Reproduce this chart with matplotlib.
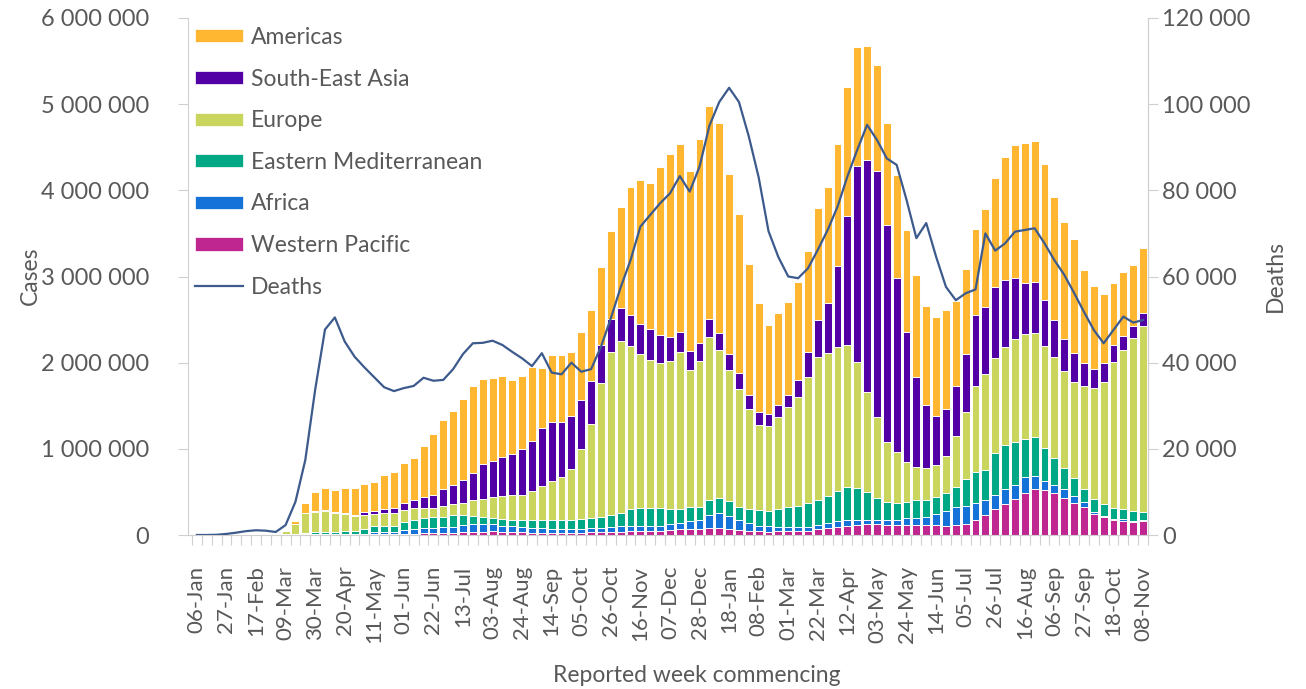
import numpy as np
import matplotlib
matplotlib.use("Agg")
import matplotlib.pyplot as plt
from matplotlib.patches import Patch
from matplotlib.lines import Line2D

plt.rcParams['font.family'] = ['Lato', 'DejaVu Sans']

# ---- data (weekly new cases, thousands; deaths, thousands) ----
western_pacific = [0.1,0.3,1,4,5,6,4,4,5,7,
                   6,8,9,8,8,8,7,6,12,12,
                   12,14,15,18,20,22,25,30,35,40,
                   42,40,35,30,28,25,25,25,25,27,
                   30,33,35,40,45,48,50,52,58,67,
                   67,67,77,77,70,58,50,42,40,46,
                   50,50,52,67,77,97,104,116,124,124,
                   116,116,116,116,116,116,110,116,128,174,
                   232,302,360,414,491,534,522,491,433,368,
                   329,240,205,174,166,155,166]
africa = [0,0,0,0,0,0,0,0,0,0.2,
          1,2,3,4,5,6,8,10,18,23,
          26,44,51,60,65,67,72,86,93,88,
          86,70,65,60,57,55,50,47,45,40,
          47,44,62,64,59,52,50,52,70,76,
          95,107,155,175,150,116,85,62,64,43,
          39,47,45,49,58,65,70,58,50,50,
          58,58,78,85,97,124,165,205,209,201,
          174,162,170,166,178,151,108,89,97,85,
          58,22,20,16,15,13,12]
eastern_med = [0,0,0,0,0,0,0,1,5,7,
               10,15,20,22,25,30,35,50,74,69,
               66,97,108,123,128,124,131,112,97,85,
               73,72,74,84,89,94,99,102,104,119,
               117,136,135,155,194,217,217,213,172,157,
               158,146,174,174,170,151,171,182,178,213,
               232,240,271,290,318,353,379,368,321,252,
               213,201,193,205,193,205,215,240,309,360,
               348,484,514,495,445,448,376,317,244,205,
               147,152,131,120,117,111,93]
europe = [0,0,0,0,0,0,0.1,1,8,28,
          110,225,238,246,220,205,170,166,140,148,
          148,135,136,116,104,124,132,142,185,207,
          239,268,286,296,336,391,458,494,588,808,
          1094,1555,1895,1998,1891,1783,1714,1683,1723,1827,
          1595,1703,1895,1721,1525,1366,1153,985,983,1071,
          1168,1268,1469,1663,1663,1670,1652,1469,1168,947,
          696,592,464,387,368,367,430,588,785,994,
          1111,1102,1141,1196,1218,1215,1187,1172,1133,1121,
          1195,1288,1423,1701,1849,2004,2154]
south_east_asia = [0,0,0,0,0,0,0,0,0,0.2,
                   1,2,5,6,8,12,15,35,35,53,
                   58,85,96,127,152,193,220,270,315,402,
                   422,455,485,524,584,673,683,647,619,577,
                   503,437,378,378,364,345,356,321,278,232,
                   224,209,202,201,185,193,166,154,145,137,
                   136,194,290,426,580,937,1497,2271,2689,2855,
                   2515,2012,1508,1044,735,573,540,586,669,824,
                   777,832,774,715,596,592,534,426,364,337,
                   263,221,213,194,166,142,148]
americas = [0,0,0,0,0,0,0,0,1,3,
            38,115,220,255,256,289,310,321,332,391,
            418,464,491,592,699,805,863,935,1004,992,
            964,944,854,855,852,704,774,774,746,788,
            816,909,1026,1168,1490,1675,1694,1946,2117,2179,
            2081,2368,2477,2437,2095,1836,1525,1265,1030,1070,
            1083,1141,1172,1296,1347,1416,1501,1385,1326,1226,
            1187,1199,1180,1180,1149,1148,1151,980,983,998,
            1138,1258,1431,1540,1618,1636,1579,1424,1365,1319,
            1083,970,805,716,736,708,761]
deaths = [0,0,0.05,0.25,0.55,0.9,1.1,1.0,0.7,2.3,
          7.7,17.4,33.7,47.7,50.5,44.9,41.4,38.9,36.6,34.3,
          33.4,34.1,34.6,36.5,35.8,36.0,38.5,42.0,44.5,44.6,
          45.1,44.1,42.5,41.0,39.2,42.2,37.7,37.3,40.0,37.9,
          38.5,43.7,50.3,57.5,63.8,71.6,74.3,77.0,79.3,83.3,
          79.7,85.5,95.0,100.5,103.8,100.5,92.5,83.0,70.5,64.5,
          60.0,59.6,61.9,66.2,70.8,76.2,83.2,89.4,95.2,91.7,
          87.4,85.9,77.8,68.9,72.4,64.6,57.6,54.5,56.1,57.0,
          70.0,66.0,67.7,70.4,70.8,71.2,67.7,63.8,60.4,56.2,
          51.8,47.6,44.5,47.6,50.7,49.3,49.9]

week_tick_labels = ["06-Jan","27-Jan","17-Feb","09-Mar","30-Mar","20-Apr","11-May",
                    "01-Jun","22-Jun","13-Jul","03-Aug","24-Aug","14-Sep","05-Oct",
                    "26-Oct","16-Nov","07-Dec","28-Dec","18-Jan","08-Feb","01-Mar",
                    "22-Mar","12-Apr","03-May","24-May","14-Jun","05-Jul","26-Jul",
                    "16-Aug","06-Sep","27-Sep","18-Oct","08-Nov"]
case_ticks = [0, 1000000, 2000000, 3000000, 4000000, 5000000, 6000000]
case_tick_labels = ["0", "1 000 000", "2 000 000", "3 000 000", "4 000 000", "5 000 000", "6 000 000"]
death_ticks = [0, 20000, 40000, 60000, 80000, 100000, 120000]
death_tick_labels = ["0", "20 000", "40 000", "60 000", "80 000", "100 000", "120 000"]

regions = [("Western Pacific", western_pacific, "#C0268F"),
           ("Africa", africa, "#1472D8"),
           ("Eastern Mediterranean", eastern_med, "#00A886"),
           ("Europe", europe, "#C9D55C"),
           ("South-East Asia", south_east_asia, "#5200A6"),
           ("Americas", americas, "#FFB732")]

TXT = "#595959"
GRID = "#D0D0D0"

fig = plt.figure(figsize=(13.06, 6.89), dpi=100)
W, H = 1306, 689
ax = fig.add_axes([188 / W, 1 - 535 / H, (1148 - 188) / W, (535 - 18) / H])

n = len(americas)
x = np.arange(n)
bottom = np.zeros(n)
for name, vals, col in regions:
    v = np.array(vals, dtype=float) * 1000
    ax.bar(x, v, width=0.8, bottom=bottom, color=col, edgecolor="white",
           linewidth=0.7, label=name, zorder=2)
    bottom += v

ax.set_xlim(-0.9, n - 0.55)
ax.set_ylim(0, 6000000)
ax.set_yticks(case_ticks)
ax.set_yticklabels(case_tick_labels)
ax.set_xticks(np.arange(0, n, 3))
ax.set_xticklabels(week_tick_labels, rotation=90)
ax.set_xticks(np.arange(-0.5, n, 1), minor=True)
ax.tick_params(axis="x", which="major", length=0, pad=22, labelsize=16, labelcolor=TXT)
ax.tick_params(axis="x", which="minor", length=7, color=GRID, width=0.8)
ax.tick_params(axis="y", length=7, color=GRID, width=0.8, pad=21, labelsize=17, labelcolor=TXT)
ax.spines["top"].set_visible(False)
for s in ["left", "bottom", "right"]:
    ax.spines[s].set_color(GRID)
    ax.spines[s].set_linewidth(0.8)

ax2 = ax.twinx()
ax2.plot(x, np.array(deaths) * 1000, color="#3D5A8C", linewidth=1.6, zorder=5)
ax2.set_ylim(0, 120000)
ax2.set_yticks(death_ticks)
ax2.set_yticklabels(death_tick_labels)
ax2.tick_params(axis="y", length=7, color=GRID, width=0.8, pad=3, labelsize=17, labelcolor=TXT)
for s in ["top", "left", "bottom"]:
    ax2.spines[s].set_visible(False)
ax2.spines["right"].set_color(GRID)
ax2.spines["right"].set_linewidth(0.8)

fig.text(30 / W, 1 - 276 / H, "Cases", rotation=90, ha="center", va="center", fontsize=16.5, color=TXT)
fig.text(1275 / W, 1 - 276 / H, "Deaths", rotation=90, ha="center", va="center", fontsize=16.5, color=TXT)
fig.text(697 / W, 1 - 675 / H, "Reported week commencing", ha="center", va="center", fontsize=16.5, color=TXT)

handles = [Patch(facecolor=c, edgecolor="white", linewidth=0.5) for _, _, c in regions[::-1]]
labels = [nm for nm, _, _ in regions[::-1]]
handles.append(Line2D([0], [0], color="#3D5A8C", linewidth=1.6))
labels.append("Deaths")
leg = fig.legend(handles, labels, loc="upper left", bbox_to_anchor=(195 / W, 1 - 27 / H),
                 frameon=False, fontsize=16.5, handlelength=2.1, handleheight=0.5,
                 handletextpad=0.35, labelspacing=0.9, borderpad=0, borderaxespad=0)
for t in leg.get_texts():
    t.set_color(TXT)

fig.savefig("out.png", dpi=100)
